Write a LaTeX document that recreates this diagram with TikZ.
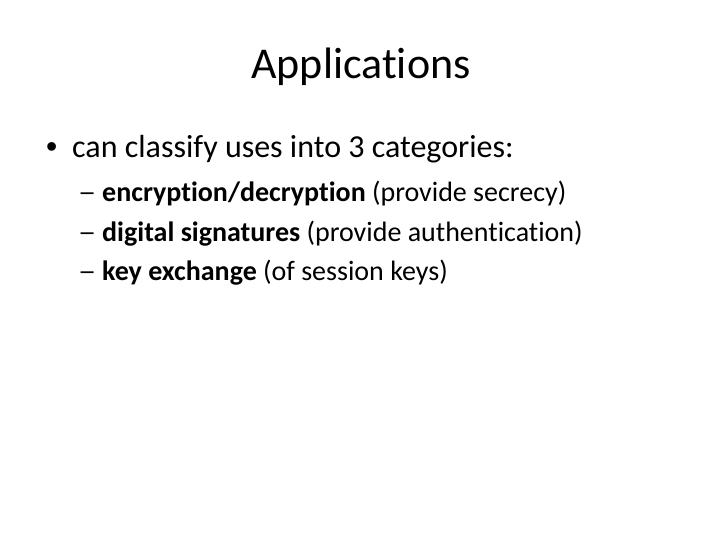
\documentclass[tikz,border=0pt]{standalone}
\usepackage{fontspec}
\usepackage{graphicx}
\setmainfont{Carlito}[Ligatures={NoCommon,NoContextual}]
\newfontfamily\bulletfont{Liberation Sans}
\begin{document}
\begin{tikzpicture}[x=1pt,y=-1pt,
  txt/.style={inner sep=0pt,anchor=base west,text=black},
  titlefont/.style={font=\fontsize{44}{52}\selectfont},
  lvlone/.style={txt,font=\fontsize{32}{38}\selectfont},
  bulletsty/.style={txt,font=\bulletfont\fontsize{32}{38}\selectfont},
  lvltwo/.style={txt,font=\fontsize{28}{34}\selectfont}]
\useasboundingbox[fill=white] (0,0) rectangle (720,540);
\node[txt,titlefont,anchor=base] (title) at (361,79) {Applications};
\node[bulletsty] (b1) at (46,158) {•};
\node[lvlone] (t1) at (72,158) {can classify uses into 3 categories:};
\node[lvltwo] (d1) at (78,202) {\scalebox{1.3}[1]{–}};
\node[lvltwo] (s1) at (102,202) {\textbf{encryption/decryption} (provide secrecy)};
\node[lvltwo] (d2) at (78,241) {\scalebox{1.3}[1]{–}};
\node[lvltwo] (s2) at (102,241) {\textbf{digital signatures} (provide authentication)};
\node[lvltwo] (d3) at (78,280) {\scalebox{1.3}[1]{–}};
\node[lvltwo] (s3) at (102,280) {\textbf{key exchange} (of session keys)};
\end{tikzpicture}
\end{document}
